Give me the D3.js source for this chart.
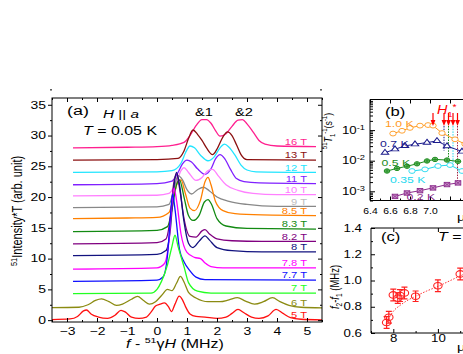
<!DOCTYPE html>
<html>
<head>
<meta charset="utf-8">
<script src="https://cdn.jsdelivr.net/npm/d3@7"></script>
<style>
  body { margin: 0; background: #fff; }
  svg { display: block; }
  text { font-family: "Liberation Sans", Arial, sans-serif; }
</style>
</head>
<body>
<script>
// ---------- panel (a): NMR spectra, [f - 51γH (MHz), 51Intensity*T] ----------
const fieldLabels = ["16 T", "13 T", "12 T", "11 T", "10 T", "9 T", "8.5 T", "8.3 T",
    "8.2 T", "8 T", "7.8 T", "7.7 T", "7 T", "6 T", "5 T"];

const spec16 = [[-2.8,28.0],[-1,28.1],[0,28.2],[0.5,28.4],[0.9,28.9],[1.1,30.0],[1.3,31.6],[1.5,32.6],
    [1.65,32.6],[1.8,32.0],[1.95,30.8],[2.1,29.9],[2.3,30.3],[2.5,31.5],[2.7,32.5],[2.85,32.6],
    [3.0,31.9],[3.2,30.6],[3.4,29.2],[3.6,28.6],[4.0,28.3],[5.3,28.2]];
const spec13 = [[-2.8,26.0],[0,26.1],[0.7,26.3],[0.9,27.5],[1.05,29.5],[1.2,30.9],[1.35,30.2],
    [1.5,29.2],[1.65,28.0],[1.85,26.9],[2.0,27.8],[2.2,29.8],[2.35,30.6],[2.5,30.0],[2.65,28.5],
    [2.8,26.9],[3.0,26.1],[5.3,26.0]];
const spec12 = [[-2.8,24.0],[0,24.1],[0.5,24.3],[0.8,25.5],[0.95,27.2],[1.1,28.3],[1.25,28.0],
    [1.45,26.8],[1.7,25.9],[1.9,26.5],[2.1,28.0],[2.25,28.6],[2.4,28.1],[2.6,26.8],[2.8,25.2],
    [3.0,24.4],[3.3,24.1],[5.3,24.0]];
const spec11 = [[-2.8,22.0],[0,22.2],[0.5,22.6],[0.7,24.0],[0.85,25.4],[1.0,26.0],[1.15,25.7],
    [1.35,24.6],[1.6,23.7],[1.8,24.6],[1.95,26.2],[2.1,26.9],[2.25,26.3],[2.45,24.5],[2.65,23.0],
    [2.9,22.5],[3.4,22.3],[5.3,22.2]];
const spec10 = [[-2.8,20.2],[0,20.3],[0.4,20.6],[0.65,22.5],[0.8,24.3],[0.9,24.8],[1.05,24.0],
    [1.3,22.7],[1.5,23.2],[1.7,24.3],[1.85,24.5],[2.05,23.4],[2.3,22.0],[2.7,21.1],[3.2,20.6],
    [4.0,20.4],[5.3,20.4]];
const spec9 = [[-2.8,18.3],[0,18.4],[0.4,18.8],[0.55,21.0],[0.7,23.5],[0.85,22.8],[1.0,21.2],
    [1.15,20.5],[1.35,21.2],[1.55,21.6],[1.75,21.0],[2.0,20.0],[2.4,19.3],[3.0,18.8],[4.0,18.5],
    [5.3,18.5]];
const spec85 = [[-2.8,16.5],[-1,16.6],[0,16.7],[0.4,17.5],[0.55,20.0],[0.7,22.5],[0.8,22.8],
    [0.95,20.5],[1.1,18.2],[1.25,17.8],[1.45,19.5],[1.6,22.5],[1.7,23.2],[1.8,22.0],[1.95,19.3],
    [2.2,17.8],[2.6,17.3],[3.5,17.1],[5.3,17.0]];
const spec83 = [[-2.8,14.4],[0,14.6],[0.35,15.2],[0.5,18.0],[0.65,22.0],[0.75,22.8],[0.9,20.0],
    [1.05,17.0],[1.2,16.2],[1.4,17.0],[1.58,19.2],[1.7,19.6],[1.82,18.8],[2.0,16.5],[2.3,15.3],
    [3.0,14.9],[5.3,14.8]];
const spec82 = [[-2.8,12.4],[0,12.6],[0.3,13.2],[0.45,17.0],[0.55,22.0],[0.65,23.8],[0.75,21.5],
    [0.9,16.5],[1.1,13.6],[1.3,13.5],[1.5,14.5],[1.6,14.7],[1.75,14.0],[2.0,13.2],[2.5,12.9],
    [3.5,12.8],[5.3,12.8]];
const spec80 = [[-2.8,10.5],[0,10.7],[0.3,11.3],[0.45,15.0],[0.55,21.0],[0.65,24.0],[0.75,22.0],
    [0.9,16.0],[1.05,12.5],[1.2,11.8],[1.4,12.8],[1.6,13.7],[1.75,13.0],[2.0,11.8],[2.5,11.3],
    [3.5,11.1],[5.3,11.1]];
const spec78 = [[-2.8,8.3],[0,8.5],[0.25,9.2],[0.4,13.0],[0.5,19.0],[0.57,21.5],[0.65,19.5],
    [0.8,14.0],[1.0,11.0],[1.25,10.2],[1.45,10.0],[1.6,9.3],[1.8,8.7],[2.2,8.5],[5.3,8.5]];
const spec77 = [[-2.8,6.3],[0,6.5],[0.2,7.0],[0.35,10.5],[0.45,17.0],[0.52,20.5],[0.6,18.0],
    [0.75,11.5],[0.9,9.5],[1.1,8.0],[1.3,7.0],[1.6,6.6],[5.3,6.5]];
const spec70 = [[-2.8,4.3],[-0.2,4.4],[0.0,5.0],[0.15,6.3],[0.35,9.0],[0.5,12.0],[0.6,13.8],
    [0.7,12.0],[0.9,8.7],[1.05,6.1],[1.35,4.7],[1.8,4.4],[5.3,4.4]];
const spec60 = [[-3.5,2.05],[-2.6,2.1],[-2.3,2.5],[-2.05,3.2],[-1.85,3.45],[-1.6,3.0],[-1.35,2.4],
    [-1.15,2.6],[-0.85,3.4],[-0.65,3.85],[-0.45,3.2],[-0.25,2.6],[-0.05,3.0],[0.15,4.0],[0.35,5.0],
    [0.5,4.8],[0.65,6.0],[0.78,7.1],[0.9,6.2],[1.05,4.5],[1.3,3.6],[1.7,3.0],[2.1,3.0],[2.4,3.3],
    [2.68,3.65],[2.95,3.1],[3.25,2.6],[3.55,3.0],[3.85,3.65],[4.1,3.0],[4.4,2.4],[4.8,2.1],[5.5,2.0]];
const spec50 = [[-3.5,0.1],[-2.9,0.2],[-2.65,0.6],[-2.45,1.5],[-2.35,1.65],[-2.2,1.0],[-1.95,0.5],
    [-1.65,0.3],[-1.4,0.8],[-1.2,1.6],[-1.05,1.3],[-0.85,0.5],[-0.6,0.3],[-0.35,0.5],[-0.2,1.3],
    [-0.05,2.3],[0.1,2.6],[0.25,2.8],[0.38,2.2],[0.48,1.4],[0.6,2.6],[0.74,3.9],[0.85,3.3],
    [0.95,2.2],[1.1,1.0],[1.3,0.6],[1.6,0.5],[2.0,0.3],[2.3,0.5],[2.5,1.1],[2.7,1.75],[2.9,1.2],
    [3.15,0.5],[3.4,0.3],[3.7,0.7],[3.97,1.75],[4.2,1.1],[4.45,0.4],[4.8,0.15],[5.5,0.05]];

const spectra = [spec16, spec13, spec12, spec11, spec10, spec9, spec85, spec83,
    spec82, spec80, spec78, spec77, spec70, spec60, spec50];

const lineColors = ["#ff1f8f", "#8b1010", "#22e5ff", "#8020ff", "#ff80ff", "#888888", "#ff8000",
    "#128a12", "#800080", "#12127f", "#ff00ff", "#1010ff", "#22ff22", "#8b8b12", "#ff1010"];
const labelColors = lineColors.map((c, i) => (i === 5 ? "#bdbdbd" : c));

const xTicksA = [-3, -2, -1, 0, 1, 2, 3, 4, 5];
const yTicksA = [0, 5, 10, 15, 20, 25, 30, 35];

// ---------- panel (b): 51T1^-1 vs field ----------
const bTemps = ["1.0 K", "0.7 K", "0.5 K", "0.35 K", "0.2 K"];
const b10 = [[6.63,0.077],[6.72,0.095],[6.8,0.118],[6.9,0.14],[6.98,0.146],[7.03,0.14],[7.12,0.08],[7.25,0.05],[7.35,0.035]];
const b07 = [[6.55,0.0183],[6.65,0.0237],[6.75,0.0304],[6.85,0.0346],[6.97,0.039],[7.07,0.0444],[7.17,0.03],[7.32,0.02]];
const b05 = [[6.57,0.0046],[6.67,0.0056],[6.77,0.0066],[6.87,0.0079],[6.97,0.0098],[7.05,0.011],[7.17,0.0105],[7.28,0.0095]];
const b035 = [[6.82,0.0046],[6.95,0.0052],[7.08,0.0067],[7.2,0.0072],[7.32,0.0046]];
const b02 = [[6.65,0.00068],[6.77,0.00088],[6.9,0.00105],[7.03,0.00129],[7.17,0.00166],[7.28,0.00188]];
const bArrowH = [7.03, 7.14, 7.185, 7.23, 7.275];
const bDropH = [7.14, 7.185, 7.23, 7.275];
const bDropEnd = [0.021, 0.0086, 0.0067, 0.0019];
const bXTicks = [6.4, 6.6, 6.8, 7.0];

// ---------- panel (c): f2 - f1 vs field ----------
const cField = [7.7, 7.8, 8.0, 8.2, 8.3, 8.5, 9.0, 10.0, 11.0];
const cSplit = [0.68, 0.72, 0.89, 0.865, 0.885, 0.905, 0.88, 0.96, 1.05];
const cErr = [0.045, 0.045, 0.045, 0.04, 0.045, 0.045, 0.04, 0.045, 0.045];
const cFit = [[7.68,0.66],[7.8,0.71],[8.0,0.765],[8.3,0.81],[8.6,0.845],[9.0,0.88],[9.5,0.92],
    [10,0.955],[10.5,0.995],[11,1.035],[11.2,1.05]];
const cYTicks = [0.6, 0.8, 1.0, 1.2, 1.4];
const cXTicks = [8, 10];

const W = 463, H = 354;
const SX = 1.33; // picture is stretched horizontally

const svg = d3.select("body").append("svg").attr("width", W).attr("height", H);

function sText(parent, x, y, html, size, fill, anchor, sx) {
    return parent.append("text")
        .attr("transform", `translate(${x},${y}) scale(${sx || SX},1)`)
        .attr("font-size", size)
        .attr("fill", fill || "#000")
        .attr("text-anchor", anchor || "start")
        .html(html);
}
function vText(parent, x, y, html, size) {
    return parent.append("text")
        .attr("transform", `translate(${x},${y}) rotate(-90) scale(1,${SX})`)
        .attr("font-size", size)
        .attr("text-anchor", "middle")
        .html(html);
}
function stretch(g, size, sx) {
    sx = sx || SX;
    g.attr("font-size", size || 10.5).attr("font-family", null);
    g.select(".domain").remove();
    g.selectAll(".tick line").attr("stroke", "#000");
    g.selectAll(".tick text").each(function () {
        const t = d3.select(this);
        t.attr("x", (+t.attr("x") || 0) / sx).attr("transform", `scale(${sx},1)`).attr("fill", "#000");
    });
}
function ticksG(axis, tx, ty, size, sx) {
    const g = svg.append("g").attr("transform", `translate(${tx},${ty})`).call(axis);
    stretch(g, size, sx);
    return g;
}

// ================= panel (a) =================
const A = { l: 52, r: 322, t: 98, b: 322 };
const xA = d3.scaleLinear().domain([-3.5, 5.5]).range([A.l, A.r]);
const yA = d3.scaleLinear().domain([-0.3, 36.1]).range([A.b, A.t]);

svg.append("clipPath").attr("id", "clipA").append("rect")
    .attr("x", A.l).attr("y", A.t).attr("width", A.r - A.l).attr("height", A.b - A.t);

const lineA = d3.line().x(d => xA(d[0])).y(d => yA(d[1])).curve(d3.curveMonotoneX);
const gA = svg.append("g").attr("clip-path", "url(#clipA)");
spectra.forEach((s, i) => {
    gA.append("path").attr("d", lineA(s)).attr("fill", "none")
        .attr("stroke", lineColors[i]).attr("stroke-width", 1.3);
});
spectra.forEach((s, i) => {
    sText(svg, 307, yA(s[s.length - 1][1]) - 1.8, fieldLabels[i], 8.4, labelColors[i], "end");
});

// axes of (a)
const minorA = d3.range(-3.5, 5.51, 0.5).filter(v => Math.abs(v - Math.round(v)) > 0.1);
ticksG(d3.axisBottom(xA).tickValues(xTicksA).tickSize(-4).tickPadding(6).tickFormat(d3.format("d")), 0, A.b);
ticksG(d3.axisBottom(xA).tickValues(minorA).tickSize(-2).tickFormat(""), 0, A.b);
ticksG(d3.axisTop(xA).tickValues(xTicksA).tickSize(-4).tickFormat(""), 0, A.t);
ticksG(d3.axisTop(xA).tickValues(minorA).tickSize(-2).tickFormat(""), 0, A.t);
ticksG(d3.axisLeft(yA).tickValues(yTicksA).tickSize(4).tickPadding(2), A.l, 0);
ticksG(d3.axisLeft(yA).tickValues(yTicksA.map(v => v + 2.5)).tickSize(2).tickFormat(""), A.l, 0);
ticksG(d3.axisRight(yA).tickValues(yTicksA).tickSize(-4).tickFormat(""), A.r, 0);
ticksG(d3.axisRight(yA).tickValues(yTicksA.map(v => v + 2.5)).tickSize(-2).tickFormat(""), A.r, 0);
svg.append("rect").attr("x", A.l).attr("y", A.t).attr("width", A.r - A.l).attr("height", A.b - A.t)
    .attr("fill", "none").attr("stroke", "#000").attr("stroke-width", 1);

sText(svg, 67, 115, "(a)", 13.5);
sText(svg, 103, 118, '<tspan font-style="italic">H</tspan> || <tspan font-style="italic">a</tspan>', 11.5);
sText(svg, 83, 135, '<tspan font-style="italic">T</tspan> = 0.05 K', 12);
sText(svg, 195, 116, "&amp;1", 11);
sText(svg, 235, 116, "&amp;2", 11);
sText(svg, 175, 348, '<tspan font-style="italic">f</tspan> - <tspan dy="-5" font-size="8">51</tspan><tspan dy="5">γ</tspan><tspan font-style="italic">H</tspan> (MHz)', 12, "#000", "middle");
vText(svg, 22, 211, '<tspan font-size="7.5" dy="-4">51</tspan><tspan dy="4">Intensity*T (arb. unit)</tspan>', 11);

// ================= panel (b) =================
const B = { l: 370, r: 463, t: 99.5, b: 200.5 };
const xB = d3.scaleLinear().domain([6.4, 7.33]).range([B.l, B.r]);
const yB = d3.scaleLog().domain([5e-4, 1]).range([B.b, B.t]);

svg.append("clipPath").attr("id", "clipB").append("rect")
    .attr("x", B.l).attr("y", B.t).attr("width", B.r - B.l).attr("height", B.b - B.t);
const gB = svg.append("g").attr("clip-path", "url(#clipB)");

const bColors = ["#ff9a1f", "#1a1a8b", "#1a8a1a", "#22d8ee", "#8b2a8b"];
const bSeries = [b10, b07, b05, b035, b02];
const lineB = d3.line().x(d => xB(d[0])).y(d => yB(d[1]));

// dotted drop lines and arrows
const dropColors = ["#1a1a8b", "#1a8a1a", "#22d8ee", "#a02040"];
bDropH.forEach((h, i) => {
    gB.append("line").attr("x1", xB(h)).attr("x2", xB(h)).attr("y1", 126).attr("y2", yB(bDropEnd[i]))
        .attr("stroke", dropColors[i]).attr("stroke-width", 1).attr("stroke-dasharray", "1.5,1.2");
});

bSeries.forEach((s, i) => {
    gB.append("path").attr("d", lineB(s)).attr("fill", "none")
        .attr("stroke", bColors[i]).attr("stroke-width", 1);
    const pts = gB.selectAll(null).data(s).enter().append("g")
        .attr("transform", d => `translate(${xB(d[0])},${yB(d[1])})`);
    if (i === 0 || i === 3) {
        pts.append("ellipse").attr("rx", 3.2).attr("ry", 2.4).attr("fill", "#fff")
            .attr("stroke", bColors[i]).attr("stroke-width", 0.9);
    } else if (i === 1) {
        pts.append("path").attr("d", d3.symbol(d3.symbolTriangle, 14)()).attr("transform", `scale(1.3,1)`)
            .attr("fill", "#fff").attr("stroke", bColors[i]).attr("stroke-width", 0.9);
    } else if (i === 2) {
        pts.append("ellipse").attr("rx", 2.8).attr("ry", 2.2).attr("fill", "#7fc27f")
            .attr("stroke", bColors[i]).attr("stroke-width", 0.9);
        pts.append("path").attr("d", "M-2.8,0H2.8M0,-2.2V2.2").attr("stroke", bColors[i]).attr("stroke-width", 0.9);
    } else {
        pts.append("rect").attr("x", -2.8).attr("y", -2.2).attr("width", 5.6).attr("height", 4.4)
            .attr("fill", "#c58ec5").attr("stroke", bColors[i]).attr("stroke-width", 0.9);
        pts.append("path").attr("d", "M-2.8,-2.2L2.8,2.2M-2.8,2.2L2.8,-2.2").attr("stroke", bColors[i]).attr("stroke-width", 0.7);
    }
});

bArrowH.forEach(h => {
    const x = xB(h);
    gB.append("line").attr("x1", x).attr("x2", x).attr("y1", 113).attr("y2", 121)
        .attr("stroke", "#ff0000").attr("stroke-width", 1.2);
    gB.append("path").attr("d", `M${x - 2.4},120L${x + 2.4},120L${x},126Z`).attr("fill", "#ff0000");
});

// axes of (b)
const bMinorY = [];
[-4, -3, -2, -1].forEach(k => d3.range(2, 10).forEach(m => {
    const v = m * Math.pow(10, k);
    if (v >= 5e-4 && v <= 1) bMinorY.push(v);
}));
const gBy = ticksG(d3.axisLeft(yB).tickValues([1e-3, 1e-2, 1e-1]).tickSize(-5).tickPadding(5).tickFormat(() => "10"), B.l, 0, 10);
gBy.selectAll(".tick text").html(d => `10<tspan dy="-4" font-size="7">-${Math.round(-Math.log10(d))}</tspan>`);
ticksG(d3.axisLeft(yB).tickValues(bMinorY).tickSize(-3).tickFormat(""), B.l, 0);
const bMajorX = d3.range(6.4, 7.31, 0.2);
ticksG(d3.axisBottom(xB).tickValues(bMajorX).tickSize(-4).tickPadding(7)
    .tickFormat(d => bXTicks.some(t => Math.abs(t - d) < 1e-6) ? d3.format(".1f")(d) : ""), 0, B.b, 9, 1.15);
ticksG(d3.axisBottom(xB).tickValues(d3.range(6.5, 7.31, 0.2)).tickSize(-2).tickFormat(""), 0, B.b);
ticksG(d3.axisTop(xB).tickValues(bMajorX).tickSize(-4).tickFormat(""), 0, B.t);
svg.append("path").attr("d", `M${B.r + 2},${B.t}H${B.l}V${B.b}H${B.r + 2}`)
    .attr("fill", "none").attr("stroke", "#000").attr("stroke-width", 1);

sText(svg, 385, 116, "(b)", 12.5);
sText(svg, 437, 114, '<tspan font-style="italic">H</tspan><tspan dy="3" font-size="7.5">1</tspan><tspan dy="-7" font-size="8.5">*</tspan>', 12, "#ff0000", "start", 1.2);
const bLabelPos = [[385, 127], [380, 146.5], [381.5, 165.5], [390, 183], [406.5, 200]];
bTemps.forEach((t, i) => sText(svg, bLabelPos[i][0], bLabelPos[i][1], t, 9.2, bColors[i]));
vText(svg, 332, 131, '<tspan font-size="6" dy="-3.5">51</tspan><tspan dy="3.5" font-style="italic">T</tspan><tspan font-size="6" dy="2.5">1</tspan><tspan font-size="6" dy="-6">-1</tspan><tspan dy="3.5">(s</tspan><tspan font-size="6" dy="-3.5">-1</tspan><tspan dy="3.5">)</tspan>', 8.8);
sText(svg, 457, 221, 'μ<tspan font-size="8" dy="3">0</tspan><tspan dy="-3" font-style="italic">H</tspan> (T)', 11);

// ================= panel (c) =================
const C = { l: 371, r: 463, t: 228, b: 333 };
const xC = d3.scaleLinear().domain([7, 7 + (C.r - C.l) / 22.3]).range([C.l, C.r]);
const yC = d3.scaleLinear().domain([0.6, 1.4]).range([C.b, C.t]);

svg.append("clipPath").attr("id", "clipC").append("rect")
    .attr("x", C.l).attr("y", C.t).attr("width", C.r - C.l).attr("height", C.b - C.t);
const gC = svg.append("g").attr("clip-path", "url(#clipC)");

gC.append("path").attr("d", d3.line().x(d => xC(d[0])).y(d => yC(d[1])).curve(d3.curveMonotoneX)(cFit))
    .attr("fill", "none").attr("stroke", "#ff3030").attr("stroke-width", 1).attr("stroke-dasharray", "1.5,1.5");
const cPts = gC.selectAll(null).data(cField).enter().append("g");
cPts.append("path").attr("d", (h, i) => {
    const x = xC(h), y1 = yC(cSplit[i] - cErr[i]), y2 = yC(cSplit[i] + cErr[i]);
    return `M${x},${y1}V${y2}M${x - 3},${y1}H${x + 3}M${x - 3},${y2}H${x + 3}`;
}).attr("stroke", "#ff2020").attr("stroke-width", 1.2).attr("fill", "none");
cPts.append("ellipse").attr("cx", h => xC(h)).attr("cy", (h, i) => yC(cSplit[i]))
    .attr("rx", 4.2).attr("ry", 3.3).attr("fill", "none").attr("stroke", "#ff2020").attr("stroke-width", 1.1);

ticksG(d3.axisLeft(yC).tickValues(cYTicks).tickSize(-4).tickPadding(9).tickFormat(d3.format(".1f")), C.l, 0, 10);
ticksG(d3.axisLeft(yC).tickValues([0.7, 0.9, 1.1, 1.3]).tickSize(-2).tickFormat(""), C.l, 0);
ticksG(d3.axisBottom(xC).tickValues(cXTicks).tickSize(-4).tickPadding(2).tickFormat(d3.format("d")), 0, C.b, 10);
ticksG(d3.axisBottom(xC).tickValues([7, 9, 11]).tickSize(-2).tickFormat(""), 0, C.b);
ticksG(d3.axisTop(xC).tickValues(cXTicks).tickSize(-4).tickFormat(""), 0, C.t);
svg.append("path").attr("d", `M${C.r + 2},${C.t}H${C.l}V${C.b}H${C.r + 2}`)
    .attr("fill", "none").attr("stroke", "#000").attr("stroke-width", 1);

sText(svg, 381, 241, "(c)", 12.5);
sText(svg, 438, 241, '<tspan font-style="italic">T</tspan> = 0.05 K', 12);
vText(svg, 339, 287, '<tspan font-style="italic">f</tspan><tspan font-size="6.5" dy="2.5">2</tspan><tspan dy="-2.5">-</tspan><tspan font-style="italic">f</tspan><tspan font-size="6.5" dy="2.5">1</tspan><tspan dy="-2.5"> (MHz)</tspan>', 9.5);
sText(svg, 457, 351, 'μ<tspan font-size="8" dy="3">0</tspan><tspan dy="-3" font-style="italic">H</tspan> (T)', 11);
</script>
</body>
</html>
